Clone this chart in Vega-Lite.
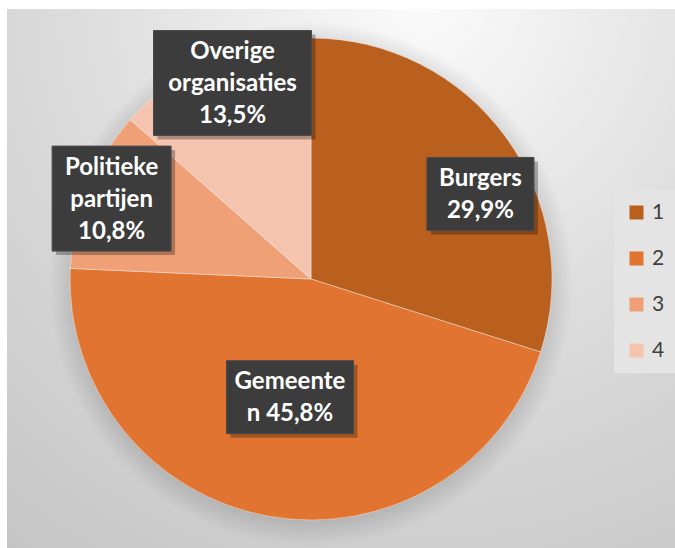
{
  "$schema": "https://vega.github.io/schema/vega-lite/v6.json",
  "width": 668,
  "height": 539,
  "autosize": {"type": "none"},
  "padding": {"left": 7, "top": 9, "right": 0, "bottom": 0},
  "background": "white",
  "config": {
    "view": {"stroke": "#d2d2d2", "strokeWidth": 1},
    "font": "Lato",
    "legend": {
      "fillColor": "#e4e4e4",
      "padding": 12,
      "symbolType": "square",
      "symbolSize": 196,
      "symbolStrokeWidth": 0,
      "labelFontSize": 21,
      "labelColor": "#404040",
      "labelFont": "Lato",
      "labelOffset": 5,
      "rowPadding": 24
    }
  },
  "datasets": {
    "aandelen": [
      {"cat": "1", "naam": "Burgers", "aandeel": 29.9, "label": ["Burgers", "29,9%"]},
      {"cat": "2", "naam": "Gemeenten", "aandeel": 45.8, "label": ["Gemeente", "n 45,8%"]},
      {"cat": "3", "naam": "Politieke partijen", "aandeel": 10.8, "label": ["Politieke", "partijen", "10,8%"]},
      {"cat": "4", "naam": "Overige organisaties", "aandeel": 13.5, "label": ["Overige", "organisaties", "13,5%"]}
    ]
  },
  "layer": [
    {
      "data": {"values": [{}]},
      "mark": {
        "type": "rect",
        "fill": {
          "gradient": "radial",
          "x1": 0.62, "y1": 0.08, "r1": 0,
          "x2": 0.62, "y2": 0.08, "r2": 1.05,
          "stops": [
            {"offset": 0, "color": "#fbfbfb"},
            {"offset": 0.5, "color": "#dcdcdc"},
            {"offset": 1, "color": "#c4c4c4"}
          ]
        }
      },
      "encoding": {}
    },
    {
      "data": {"values": [{}]},
      "mark": {
        "type": "arc",
        "theta": 0,
        "theta2": 6.2832,
        "outerRadius": 262,
        "fill": {
          "gradient": "radial",
          "x1": 0.5, "y1": 0.5, "r1": 0,
          "x2": 0.5, "y2": 0.5, "r2": 0.5,
          "stops": [
            {"offset": 0.88, "color": "rgba(0,0,0,0.16)"},
            {"offset": 1, "color": "rgba(0,0,0,0)"}
          ]
        }
      },
      "encoding": {
        "x": {"datum": 0, "type": "quantitative", "scale": {"domain": [-304, 364], "nice": false, "zero": false}, "axis": null},
        "y": {"datum": -5, "type": "quantitative", "scale": {"domain": [-269, 270], "nice": false, "zero": false}, "axis": null}
      }
    },
    {
      "data": {"name": "aandelen"},
      "mark": {"type": "arc", "outerRadius": 241, "stroke": "#ffffff", "strokeWidth": 0.4},
      "encoding": {
        "theta": {"field": "aandeel", "type": "quantitative", "stack": true},
        "order": {"field": "cat"},
        "color": {
          "field": "cat",
          "type": "nominal",
          "scale": {"domain": ["1", "2", "3", "4"], "range": ["#B9601F", "#E07430", "#F0A077", "#F5C4AF"]},
          "legend": {"title": null, "orient": "none", "legendX": 607, "legendY": 181}
        },
        "x": {"datum": 0, "type": "quantitative", "scale": {"domain": [-304, 364], "nice": false, "zero": false}, "axis": null},
        "y": {"datum": 0, "type": "quantitative", "scale": {"domain": [-269, 270], "nice": false, "zero": false}, "axis": null}
      }
    },
    {
      "data": {"name": "aandelen"},
      "transform": [
        {"joinaggregate": [{"op": "sum", "field": "aandeel", "as": "totaal"}]},
        {"window": [{"op": "sum", "field": "aandeel", "as": "cum"}], "sort": [{"field": "cat"}], "frame": [null, 0]},
        {"calculate": "2*PI*(datum.cum - datum.aandeel/2)/datum.totaal", "as": "hoek"},
        {"calculate": "datum.aandeel > 40 ? 120 : (datum.aandeel > 20 ? 200 : 215)", "as": "afstand"},
        {"calculate": "datum.afstand*sin(datum.hoek) + (datum.aandeel > 20 && datum.aandeel < 40 ? 8 : 0) + (datum.aandeel > 12 && datum.aandeel < 20 ? 10 : 0)", "as": "lx"},
        {"calculate": "datum.afstand*cos(datum.hoek) - (datum.aandeel > 20 && datum.aandeel < 40 ? 33 : 0)", "as": "ly"},
        {"calculate": "length(datum.label)", "as": "nregels"},
        {"calculate": "datum.ly + 16*(datum.nregels - 1) - 1", "as": "ty"},
        {"calculate": "max(6*length(datum.label[0]) + 7*length(replace(datum.label[0], regexp('[iltjfr,]', 'g'), '')), 6*length(datum.label[1] || '') + 7*length(replace(datum.label[1] || '', regexp('[iltjfr,]', 'g'), '')), 6*length(datum.label[2] || '') + 7*length(replace(datum.label[2] || '', regexp('[iltjfr,]', 'g'), '')))", "as": "tw"},
        {"calculate": "datum.tw + 30", "as": "bw"},
        {"calculate": "32*datum.nregels + 9", "as": "bh"},
        {"calculate": "datum.lx - datum.bw/2", "as": "bx1"},
        {"calculate": "datum.lx + datum.bw/2", "as": "bx2"},
        {"calculate": "datum.ly - datum.bh/2", "as": "by1"},
        {"calculate": "datum.ly + datum.bh/2", "as": "by2"},
        {"calculate": "datum.bx1 + 4", "as": "sx1"},
        {"calculate": "datum.bx2 + 4", "as": "sx2"},
        {"calculate": "datum.by1 - 4", "as": "sy1"},
        {"calculate": "datum.by2 - 4", "as": "sy2"}
      ],
      "layer": [
        {
          "mark": {"type": "rect", "fill": "#000000", "opacity": 0.28},
          "encoding": {
            "x": {"field": "sx1", "type": "quantitative", "scale": {"domain": [-304, 364], "nice": false, "zero": false}, "axis": null},
            "x2": {"field": "sx2"},
            "y": {"field": "sy1", "type": "quantitative", "scale": {"domain": [-269, 270], "nice": false, "zero": false}, "axis": null},
            "y2": {"field": "sy2"}
          }
        },
        {
          "mark": {"type": "rect", "fill": "#3c3c3c", "stroke": "#4a4a4a", "strokeWidth": 1},
          "encoding": {
            "x": {"field": "bx1", "type": "quantitative", "scale": {"domain": [-304, 364], "nice": false, "zero": false}, "axis": null},
            "x2": {"field": "bx2"},
            "y": {"field": "by1", "type": "quantitative", "scale": {"domain": [-269, 270], "nice": false, "zero": false}, "axis": null},
            "y2": {"field": "by2"}
          }
        },
        {
          "mark": {"type": "text", "font": "Lato", "fontSize": 24, "fontWeight": "bold", "color": "#ffffff", "lineHeight": 32, "align": "center", "baseline": "middle"},
          "encoding": {
            "x": {"field": "lx", "type": "quantitative", "scale": {"domain": [-304, 364], "nice": false, "zero": false}, "axis": null},
            "y": {"field": "ty", "type": "quantitative", "scale": {"domain": [-269, 270], "nice": false, "zero": false}, "axis": null},
            "text": {"field": "label"}
          }
        }
      ]
    }
  ]
}
